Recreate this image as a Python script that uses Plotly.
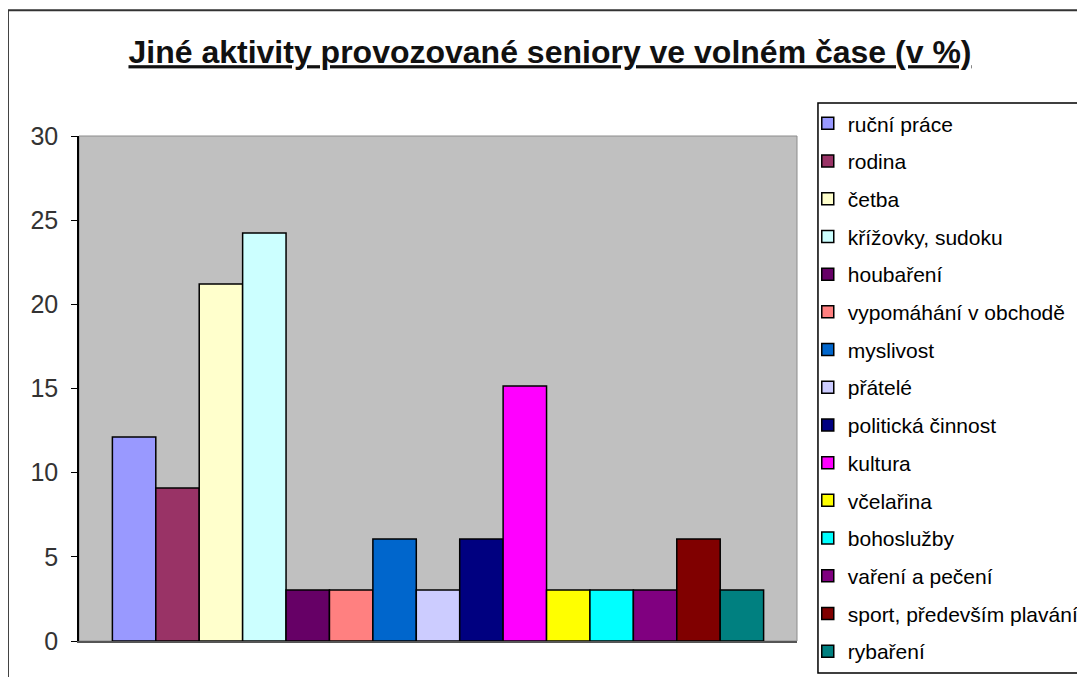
import plotly.graph_objects as go

# data
aktivity = [
    "ruční práce", "rodina", "četba", "křížovky, sudoku", "houbaření",
    "vypomáhání v obchodě", "myslivost", "přátelé", "politická činnost",
    "kultura", "včelařina", "bohoslužby", "vaření a pečení",
    "sport, především plavání", "rybaření",
]
procenta = [12.12, 9.09, 21.21, 24.24, 3.03, 3.03, 6.06, 3.03, 6.06,
            15.15, 3.03, 3.03, 3.03, 6.06, 3.03]
y_ticks = [0, 5, 10, 15, 20, 25, 30]

# Excel 2003 palette
barvy = ["#9999FF", "#993366", "#FFFFCC", "#CCFFFF", "#660066", "#FF8080",
         "#0066CC", "#CCCCFF", "#000080", "#FF00FF", "#FFFF00", "#00FFFF",
         "#800080", "#800000", "#008080"]

FONT = "Liberation Sans, Arial, sans-serif"

# page body has an 8px margin -> figure is 8px smaller and everything shifted
W, H = 1077, 669

fig = go.Figure()
for i, (nazev, hodnota) in enumerate(zip(aktivity, procenta)):
    fig.add_trace(go.Bar(
        x=[""], y=[hodnota], name=nazev, legendgroup=f"g{i}",
        marker=dict(color=barvy[i], line=dict(color="#000000", width=1.5)),
    ))

# plot area frame (grey), outer chart border, legend box
fig.add_shape(type="rect", xref="paper", yref="paper", x0=0, x1=1, y0=0, y1=1,
              line=dict(color="#8c8c8c", width=1), layer="below")
fig.add_shape(type="rect", xref="paper", yref="paper",
              x0=-0.099, x1=1.6, y0=-0.3, y1=1.249,
              line=dict(color="#333333", width=2))
fig.add_shape(type="rect", xref="paper", yref="paper",
              x0=1.0292, x1=1.6, y0=-0.0634, y1=1.0653,
              fillcolor="#FFFFFF", line=dict(color="#000000", width=1.5))

fig.update_layout(
    width=W, height=H,
    paper_bgcolor="#FFFFFF", plot_bgcolor="#C0C0C0",
    barmode="group", bargap=0.093, bargroupgap=0,
    font=dict(family=FONT, color="#000000"),
    title=dict(
        text="<b>Jiné aktivity provozované seniory ve volném čase (v %)</b>",
        font=dict(size=32, color="#111111", family=FONT, lineposition="under"),
        x=542 / W, xanchor="center", xref="container",
        y=1 - 44 / H, yanchor="middle", yref="container",
    ),
    xaxis=dict(showticklabels=False, ticks="", showgrid=False, zeroline=False,
               showline=True, linecolor="#555555", linewidth=1.5),
    yaxis=dict(range=[0, 30], tickvals=y_ticks, ticks="outside", ticklen=6,
               tickcolor="#000000", showgrid=False, zeroline=False,
               showline=True, linecolor="#000000", linewidth=1.5,
               ticklabelstandoff=8,
               tickfont=dict(size=25, color="#333333", family=FONT)),
    legend=dict(
        x=1.015, xanchor="left", y=1.065, yanchor="top",
        bgcolor="rgba(0,0,0,0)", borderwidth=0,
        font=dict(size=21, color="#000000", family=FONT),
        tracegroupgap=7.4, traceorder="grouped",
        itemwidth=30, entrywidth=300, maxheight=600,
    ),
    margin=dict(l=71, r=288, t=128, b=36, autoexpand=False),
    showlegend=True,
)

fig.write_html("out.html")
